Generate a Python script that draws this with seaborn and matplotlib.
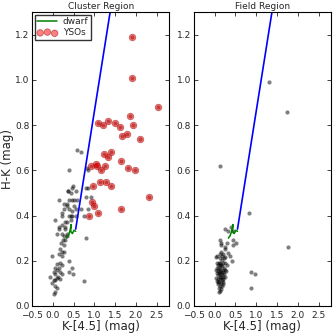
import numpy as np
import pandas as pd
import seaborn as sns
import matplotlib
matplotlib.use("Agg")
import matplotlib.pyplot as plt

# all sources in the cluster region (K-[4.5], H-K)
cluster_k45 = [0.59, 0.67, 0.39, 0.82, 0.84, 0.49, 0.36, 0.43, 0.55, 0.84, 0.92, 0.59, 0.47,
               0.35, 0.51, 0.39, 0.84, 0.22, 0.55, 0.43, 0.75, 0.37, 0.80, 0.16, 0.35, 0.26,
               0.55, 0.22, 0.39, 0.47, 0.06, 0.35, 0.43, 0.22, 0.30, 0.16, 0.29, 0.22, 0.35,
               0.26, 0.30, 0.20, 0.80, 0.26, 0.18, 0.22, 0.14, 0.22, -0.02, 0.39, 0.10, 0.18,
               0.06, 0.16, 0.22, 0.45, 0.10, 0.02, 0.18, 0.39, 0.06, 0.22, -0.06, 0.10, 0.49,
               0.02, 0.18, 0.74, -0.02, 0.06, 0.02, 0.04, 0.10, 0.14, 0.26, 0.25, 0.33, 0.12,
               0.10, 0.06, 0.67, 0.26, 0.51, 0.80, 0.47, 0.30, 0.39, 0.45]
cluster_hk = [0.69, 0.68, 0.60, 0.61, 0.60, 0.53, 0.51, 0.50, 0.51, 0.52, 0.48, 0.47, 0.47,
              0.44, 0.44, 0.43, 0.43, 0.40, 0.40, 0.40, 0.40, 0.51, 0.48, 0.47, 0.45, 0.43,
              0.43, 0.41, 0.40, 0.40, 0.38, 0.37, 0.38, 0.36, 0.35, 0.35, 0.34, 0.32, 0.32,
              0.31, 0.29, 0.28, 0.30, 0.27, 0.25, 0.24, 0.23, 0.22, 0.22, 0.20, 0.185, 0.19,
              0.17, 0.17, 0.18, 0.17, 0.16, 0.15, 0.15, 0.15, 0.14, 0.14, 0.13, 0.125, 0.14,
              0.115, 0.12, 0.11, 0.10, 0.09, 0.055, 0.06, 0.32, 0.34, 0.24, 0.29, 0.31, 0.13,
              0.08, 0.115, 0.43, 0.45, 0.47, 0.52, 0.52, 0.37, 0.47, 0.42]

# YSO candidates in the cluster region
yso_k45 = [2.53, 1.85, 1.94, 1.08, 1.21, 1.33, 1.49, 1.61, 1.79, 1.67, 2.09, 1.39, 1.33,
           1.64, 1.04, 1.07, 1.25, 1.80, 1.98, 1.15, 1.13, 1.27, 1.39, 0.96, 2.31, 0.94,
           0.98, 1.64, 1.08, 0.88, 1.90, 1.90, 1.23, 0.92]
yso_hk = [0.88, 0.84, 0.80, 0.81, 0.80, 0.82, 0.81, 0.79, 0.76, 0.75, 0.74, 0.68, 0.66,
          0.64, 0.63, 0.62, 0.62, 0.61, 0.60, 0.60, 0.55, 0.55, 0.53, 0.53, 0.48, 0.46,
          0.44, 0.43, 0.41, 0.40, 1.19, 1.01, 0.67, 0.62]

# sources in the field region
field_k45 = [0.13, 0.83, 1.30, 1.73, 1.76, 0.87, 0.98, 0.87, 0.43, 0.40, 0.52, 0.43, 0.26,
             0.14, 0.16, 0.16, 0.25, 0.16, 0.33, 0.20, 0.37, 0.41, 0.04, 0.06, 0.12, 0.18,
             0.22, 0.10, 0.14, 0.20, 0.26, 0.08, 0.12, 0.16, 0.18, 0.22, 0.30, 0.06, 0.10,
             0.14, 0.19, 0.24, 0.08, 0.12, 0.16, 0.20, 0.28, 0.05, 0.10, 0.14, 0.18, 0.22,
             0.07, 0.12, 0.16, 0.20, 0.26, 0.04, 0.09, 0.13, 0.17, 0.21, 0.06, 0.11, 0.15,
             0.19, 0.08, 0.13, 0.17, 0.10, 0.15, 0.12, 0.11, 0.18, 0.24, 0.30, 0.32, 0.45,
             0.05, 0.26, 0.14, 0.09, 0.21, 0.03]
field_hk = [0.62, 0.41, 0.99, 0.86, 0.26, 0.15, 0.14, 0.08, 0.33, 0.35, 0.28, 0.27, 0.34,
            0.29, 0.28, 0.27, 0.25, 0.24, 0.235, 0.23, 0.22, 0.20, 0.215, 0.22, 0.21, 0.205,
            0.21, 0.19, 0.19, 0.19, 0.19, 0.18, 0.18, 0.18, 0.175, 0.17, 0.18, 0.17, 0.17,
            0.165, 0.16, 0.16, 0.155, 0.155, 0.15, 0.15, 0.155, 0.145, 0.145, 0.14, 0.14, 0.14,
            0.135, 0.13, 0.13, 0.13, 0.13, 0.125, 0.12, 0.12, 0.115, 0.12, 0.11, 0.105, 0.10,
            0.105, 0.095, 0.09, 0.09, 0.08, 0.075, 0.065, 0.06, 0.22, 0.26, 0.28, 0.33, 0.29,
            0.19, 0.215, 0.23, 0.105, 0.095, 0.16]

# dwarf locus and reddening vector
dwarf_k45 = [0.33, 0.37, 0.41, 0.44, 0.43, 0.47, 0.51, 0.55]
dwarf_hk = [0.30, 0.31, 0.33, 0.36, 0.33, 0.32, 0.335, 0.33]
redvec_k45 = [0.55, 1.50]
redvec_hk = [0.34, 1.44]

sns.set_style("ticks", {"xtick.direction": "in", "ytick.direction": "in",
                        "xtick.top": True, "ytick.right": True,
                        "axes.edgecolor": "black"})
plt.rcParams["font.family"] = ["DejaVu Sans"]

fig, axes = plt.subplots(1, 2, figsize=(3.34, 3.34), dpi=100)
fig.subplots_adjust(left=0.096, right=0.991, top=0.964, bottom=0.084, wspace=0.18)

panels = [
    ("Cluster Region", cluster_k45 + yso_k45, cluster_hk + yso_hk),
    ("Field Region", field_k45, field_hk),
]

for ax, (title, xs, ys) in zip(axes, panels):
    sns.scatterplot(x=xs, y=ys, ax=ax, color="k", alpha=0.5, s=9, linewidth=0)
    sns.lineplot(x=dwarf_k45, y=dwarf_hk, ax=ax, sort=False, estimator=None,
                 color="green", lw=1.1, label="dwarf")
    sns.lineplot(x=redvec_k45, y=redvec_hk, ax=ax, sort=False, estimator=None,
                 color="blue", lw=1.2)
    ax.set_xlim(-0.5, 2.8)
    ax.set_ylim(0, 1.3)
    ax.set_xticks(np.arange(-0.5, 2.51, 0.5))
    ax.set_yticks(np.arange(0, 1.21, 0.2))
    ax.tick_params(labelsize=6.5, length=3, width=0.6)
    ax.tick_params(axis="x", pad=3.5)
    ax.tick_params(axis="y", pad=2)
    ax.set_title(title, fontsize=6.5, pad=2)
    ax.set_xlabel("K-[4.5] (mag)", fontsize=8.5, labelpad=0.5)
    for sp in ax.spines.values():
        sp.set_linewidth(0.8)

yso = pd.DataFrame({"k45": yso_k45, "hk": yso_hk})
sns.scatterplot(data=yso, x="k45", y="hk", ax=axes[0], color="red", alpha=0.5,
                s=22, edgecolor="darkred", linewidth=0.6, label="YSOs")
axes[0].set_ylabel("H-K (mag)", fontsize=8.5, labelpad=1)
axes[0].legend(loc="upper left", fontsize=6.5, scatterpoints=3, frameon=True,
               fancybox=False, edgecolor="black", handlelength=2.2,
               borderpad=0.3, labelspacing=0.2, handletextpad=0.6, borderaxespad=0.3)
axes[1].get_legend().remove()
axes[1].set_ylabel("")

fig.savefig("out.png", dpi=100)
